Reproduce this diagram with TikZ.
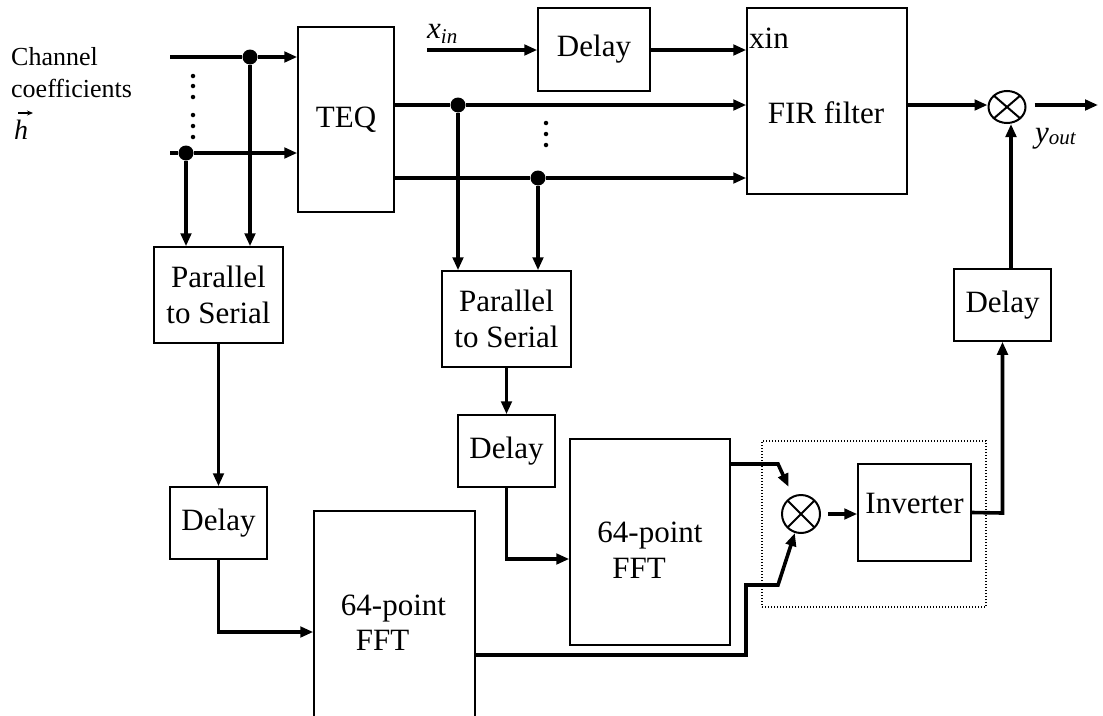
\documentclass[tikz,border=0pt]{standalone}
\usepackage{fontspec}
\setmainfont{Liberation Serif}
\usetikzlibrary{arrows.meta,shapes.geometric}
\newcommand{\bigf}{\fontsize{31}{36}\selectfont}
\newcommand{\smallf}{\fontsize{26}{32}\selectfont}
\newcommand{\subf}{\fontsize{21}{24}\selectfont}
\begin{document}
\begin{tikzpicture}[x=1pt,y=-1pt,
  box/.style={draw, line width=1.5pt, inner sep=0pt, align=center, font=\bigf},
  lbl/.style={inner sep=0pt, font=\bigf},
  slbl/.style={inner sep=0pt, font=\smallf, anchor=base west},
  wire/.style={line width=3.6pt},
  arr/.style={wire, -{Triangle[length=13pt,width=10.5pt]}},
  jdot/.style={circle, fill, inner sep=0pt, minimum size=15pt},
  edot/.style={circle, fill, inner sep=0pt, minimum size=4.5pt},
  mult/.style={draw, line width=2pt, inner sep=0pt,
    path picture={\draw[line width=2pt]
      (path picture bounding box.north west) -- (path picture bounding box.south east)
      (path picture bounding box.north east) -- (path picture bounding box.south west);}},
  grpbox/.style={draw, line width=1.1pt, dash pattern=on 1.3pt off 1.7pt, inner sep=0pt}
]
\useasboundingbox (0,0) rectangle (1103,715);
\clip (0,0) rectangle (1103,715);

% boxes
\node[box, minimum width=96,  minimum height=185] (teq)  at (346,119.5) {TEQ};
\node[box, minimum width=112, minimum height=83]  (d1)   at (594,49.5)  {Delay};
\node[box, minimum width=160, minimum height=186] (fir)  at (827,101)   {};
\node[box, minimum width=129, minimum height=96]  (p2s1) at (218.5,295) {Parallel\\to Serial};
\node[box, minimum width=129, minimum height=96]  (p2s2) at (506.5,319) {Parallel\\to Serial};
\node[box, minimum width=97,  minimum height=72]  (dl)   at (218.5,523) {Delay};
\node[box, minimum width=97,  minimum height=72]  (d2)   at (506.5,451) {Delay};
\node[box, minimum width=97,  minimum height=72]  (d3)   at (1002.5,305) {Delay};
\node[box, minimum width=161, minimum height=229] (fft1) at (394.5,625.5) {};
\node[box, minimum width=160, minimum height=206] (fft2) at (650,542)   {};
\node[box, minimum width=113, minimum height=97]  (inv)  at (914.5,512.5) {};
\node[grpbox, minimum width=224, minimum height=166] (grp) at (874,524) {};

% multipliers
\node[mult, ellipse, minimum width=37, minimum height=32] (m1) at (1007,107) {};
\node[mult, circle, minimum size=38] (m2) at (801,514) {};

% texts inside boxes
\node[lbl, anchor=base west] (xinlbl) at (749,48) {xin};
\node[lbl, anchor=base] (firlbl) at (826,123) {FIR filter};
\node[lbl, anchor=base] (f1a) at (393.5,615) {64-point};
\node[lbl, anchor=base] (f1b) at (382.5,650) {FFT};
\node[lbl, anchor=base] (f2a) at (650,542) {64-point};
\node[lbl, anchor=base] (f2b) at (639,578) {FFT};
\node[lbl, anchor=base] (invlbl) at (914.5,513) {Inverter};

% outside labels
\node[slbl] (chan) at (11,65) {Channel};
\node[slbl] (coef) at (11,97) {coefficients};
\node[slbl, font=\fontsize{28}{32}\selectfont] (hvec) at (14,139) {\textit{h}};
\draw[line width=1.2pt, -{Stealth[length=6pt,width=5pt]}]
  ([shift={(4,-26)}]hvec.base west) -- ([shift={(19,-26)}]hvec.base west);
\node[lbl, anchor=base west] (xinl) at (427,38) {\textit{x}\raisebox{-5pt}{\subf\textit{in}}};
\node[lbl, anchor=base west] (youtl) at (1035,142) {\textit{y}\raisebox{-2pt}{\subf\textit{out}}};

% junctions and coordinates
\coordinate (in1) at (170,57);
\coordinate (in2) at (170,153);
\node[jdot] (j1) at (250,57) {};
\node[jdot] (j2) at (186,153) {};
\node[jdot] (j3) at (458,105) {};
\node[jdot] (j4) at (538,178) {};
\coordinate (xs) at (427,50);
\coordinate (yo) at (1098,105);
\coordinate (c1) at (218.5,632);
\coordinate (c2) at (506.5,559);
\coordinate (c3) at (1002.5,513);
\coordinate (a1) at (778,464);
\coordinate (b0) at (746,655);
\coordinate (b1) at (746,585);
\coordinate (b2) at (778,585);

% ellipsis dots
\foreach \yy [count=\i] in {76,86,97,115,126,137} \node[edot] (ea\i) at (193,\yy) {};
\foreach \yy [count=\i] in {123,134,145} \node[edot] (eb\i) at (546,\yy) {};

% connectors: inputs to TEQ
\draw[wire] (in1) -- (j1);
\draw[arr] (j1) -- (teq.west |- j1);
\draw[wire] (in2) -- (j2);
\draw[arr] (j2) -- (teq.west |- j2);
\draw[arr] (j1) -- (j1 |- p2s1.north);
\draw[arr] (j2) -- (j2 |- p2s1.north);

% TEQ outputs to FIR
\draw[wire] (teq.east |- j3) -- (j3);
\draw[arr] (j3) -- (fir.west |- j3);
\draw[wire] (teq.east |- j4) -- (j4);
\draw[arr] (j4) -- (fir.west |- j4);
\draw[arr] (j3) -- (j3 |- p2s2.north);
\draw[arr] (j4) -- (j4 |- p2s2.north);

% xin path
\draw[arr] (xs) -- (d1.west |- xs);
\draw[arr] (d1.east |- xs) -- (fir.west |- xs);

% FIR to multiplier and output
\draw[arr] (fir.east |- yo) -- (m1.west |- yo);
\draw[arr] ([xshift=8pt]m1.east |- yo) -- (yo);

% left chain
\draw[arr] (p2s1.south) -- (dl.north);
\draw[arr] (dl.south) -- (c1) -- (fft1.west |- c1);

% middle chain
\draw[arr] (p2s2.south) -- (d2.north);
\draw[arr] (d2.south) -- (c2) -- (fft2.west |- c2);

% FFT outputs to multiplier 2
\draw[arr, shorten >=10pt] (fft2.east |- a1) -- (a1) -- (m2);
\draw[arr] (fft1.east |- b0) -- (b0) -- (b1) -- (b2) -- (m2);

% multiplier 2 -> inverter -> delay -> multiplier 1
\draw[arr] ([xshift=7pt]m2.east) -- (inv.west |- m2);
\draw[arr] (inv.east) -- (c3) -- (d3.south);
\draw[arr] ([xshift=8.5pt]d3.north) -- ([xshift=4pt]m1.south);
\end{tikzpicture}
\end{document}
